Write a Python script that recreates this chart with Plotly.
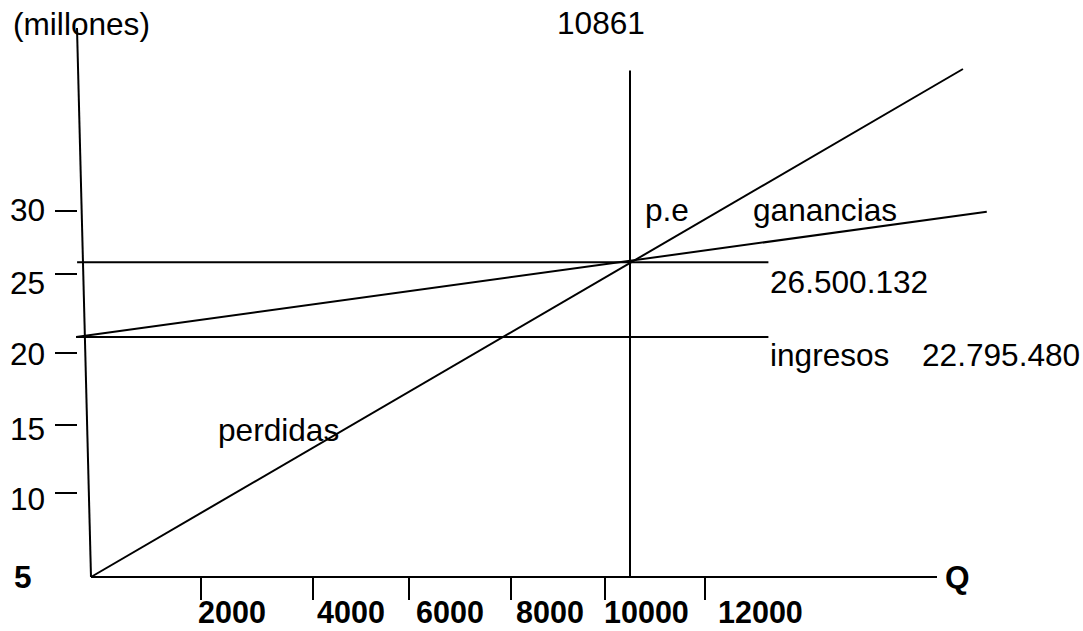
import plotly.graph_objects as go

# ---------------- data ----------------
# break-even point
q_be = 10861
y_be = 26.500132

# steep line (perdidas -> ganancias), from origin through p.e
steep_q = [0, 17570]
steep_y = [5.0, 39.7]

# gentle line, from the y axis through p.e
gentle_q = [-300, 18050]
gentle_y = [21.4, 29.95]

# horizontal level lines
level_top_q = [-280, 13650]
level_top_y = [26.5, 26.5]
level_ing_q = [-300, 13650]
level_ing_y = [21.4, 21.4]

# vertical line at the break-even quantity
vline_y = [5.0, 39.6]

# axis tick labels
x_tick_labels = ["2000", "4000", "6000", "8000", "10000", "12000"]
y_tick_labels = ["30", "25", "20", "15", "10"]

# ---------------- drawing geometry (layout, not data) ----------------
W, H = 1083, 631
OX, OY = 91, 577          # pixel position of (Q=0, 5)
KX = 539 / 10861          # px per unit Q
KY = 14.64                # px per million


def X(px):
    return (px - OX) / KX


def Y(py):
    return 5 + (OY - py) / KY


x_tick_px = [201, 313, 409, 511, 605, 705]
x_label_px = [196, 315, 414, 514, 602, 716]
y_tick_py = [211, 274, 353, 425, 493]
y_label_py = [210, 283, 354, 429, 499]

FONT = "Liberation Sans, Arial, sans-serif"
FS = 31.6
LW = 2

fig = go.Figure()


def seg(xs, ys, w=LW):
    fig.add_trace(go.Scatter(x=xs, y=ys, mode="lines",
                             line=dict(color="black", width=w),
                             hoverinfo="skip", showlegend=False))


# axes (drawn by hand, slanted y axis)
seg([X(77), 0], [Y(28), 5.0])
seg([0, X(937)], [5.0, 5.0])

# data lines
seg(steep_q, steep_y)
seg(gentle_q, gentle_y)
seg(level_top_q, level_top_y)
seg(level_ing_q, level_ing_y)
seg([q_be, q_be], vline_y)

# tick marks
for px in x_tick_px:
    seg([X(px), X(px)], [5.0, Y(600)])
for py in y_tick_py:
    seg([X(55), X(77)], [Y(py), Y(py)])

ann = []


def text(t, px, py, anchor="left", bold=False, size=FS):
    ann.append(dict(x=X(px), y=Y(py), xref="x", yref="y", text=("<b>%s</b>" % t) if bold else t,
                    showarrow=False, xanchor=anchor, yanchor="middle",
                    font=dict(family=FONT, size=size, color="black")))


for lab, px in zip(x_tick_labels, x_label_px):
    text(lab, px, 612, bold=True, size=30.5)
for lab, py in zip(y_tick_labels, y_label_py):
    text(lab, 47, py, anchor="right")

text("5", 12, 577, bold=True)
text("Q", 957, 577, anchor="center", bold=True)
text("(millones)", 11, 24)
text(str(q_be), 601, 23, anchor="center")
text("p.e", 643, 210)
text("ganancias", 751, 210)
text("26.500.132", 768, 282)
text("ingresos", 768, 355)
text("22.795.480", 920, 355)
text("perdidas", 216, 430)

fig.update_layout(
    width=W, height=H,
    margin=dict(l=0, r=0, t=0, b=0, pad=0),
    plot_bgcolor="white", paper_bgcolor="white",
    xaxis=dict(range=[X(0), X(W)], visible=False, fixedrange=True),
    yaxis=dict(range=[Y(H), Y(0)], visible=False, fixedrange=True),
    annotations=ann,
    showlegend=False,
)

fig.write_html("out.html", config={"displayModeBar": False},
               post_script="document.body.style.margin='0';document.body.style.overflow='hidden';")
